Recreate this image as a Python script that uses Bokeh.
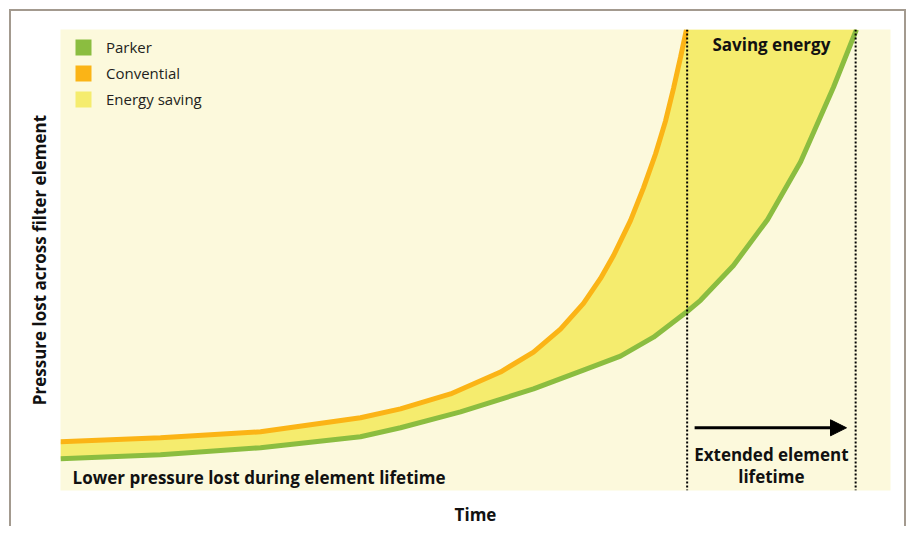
from bokeh.plotting import figure
from bokeh.models import (Range1d, Span, Label, Legend, LegendItem, Arrow, NormalHead)
from bokeh.embed import file_html
from bokeh.resources import INLINE

# ---- data (time 0-100, pressure 0-100) ----
conv_time = [0, 12.05, 24.10, 36.14, 40.96, 46.99, 53.01, 56.99, 60.24, 63.01,
             65.06, 66.63, 68.67, 70.24, 71.69, 72.89, 73.86, 74.70, 75.42]
conv_press = [10.58, 11.45, 12.74, 15.77, 17.71, 20.95, 25.70, 30.02, 34.99, 40.60,
              46.00, 50.97, 58.53, 65.66, 73.00, 80.13, 87.26, 93.95, 100]

parker_time = [0, 12.05, 24.10, 36.14, 40.96, 48.19, 56.99, 63.01, 67.47, 71.45,
               75.54, 77.11, 81.08, 85.18, 89.16, 93.13, 95.90]
parker_press = [6.91, 7.78, 9.29, 11.66, 13.61, 17.06, 22.03, 26.13, 29.16, 33.26,
                38.88, 41.25, 48.81, 58.75, 71.27, 87.47, 100]

conv_end_time = 75.5     # conventional element end of life
parker_end_time = 95.8   # Parker element end of life
arrow_start, arrow_end, arrow_level = 76.4, 94.7, 13.6

series_labels = ["Parker", "Convential", "Energy saving"]

GREEN = "#8bbd40"
ORANGE = "#fbb416"
YELLOW = "#f5ec6e"
BG = "#fcf9dc"
FONT = "Open Sans"
BORDER = "2px solid #a39a8f"

p = figure(width=897, height=517, output_backend="svg", toolbar_location=None,
           x_range=Range1d(0, 100), y_range=Range1d(0, 100),
           min_border_left=49, min_border_right=18, min_border_top=18, min_border_bottom=36,
           background_fill_color=BG, border_fill_color="white", outline_line_color=None)
p.styles = {"margin-left": "9px", "margin-top": "9px",
            "border-top": BORDER, "border-left": BORDER, "border-right": BORDER}

p.grid.visible = False
for ax in (p.xaxis, p.yaxis):
    ax.ticker = []
    ax.major_tick_line_color = None
    ax.minor_tick_line_color = None
    ax.axis_line_color = None
    ax.major_label_text_font_size = "0px"
    ax.axis_label_text_font = FONT
    ax.axis_label_text_font_style = "bold"
    ax.axis_label_text_font_size = "17px"
    ax.axis_label_text_color = "#111111"
p.xaxis.axis_label = "Time"
p.yaxis.axis_label = "Pressure lost across filter element"
p.xaxis.axis_label_standoff = 12
p.yaxis.axis_label_standoff = 10

# energy-saving band between the two curves
band_x = conv_time + [parker_end_time + 0.2] + parker_time[::-1]
band_y = conv_press + [100] + parker_press[::-1]
band = p.patch(band_x, band_y, fill_color=YELLOW, line_color=None)

p.line(conv_time, conv_press, line_color=ORANGE, line_width=5)
p.line(parker_time, parker_press, line_color=GREEN, line_width=5)

for t in (conv_end_time, parker_end_time):
    p.add_layout(Span(location=t, dimension="height", line_color="black",
                      line_width=2, line_dash="2 2"))

p.add_layout(Arrow(end=NormalHead(size=16, fill_color="black", line_color="black"),
                   x_start=arrow_start, y_start=arrow_level, x_end=arrow_end, y_end=arrow_level,
                   line_width=3, line_color="black"))

mid = (conv_end_time + parker_end_time) / 2
common = dict(text_font=FONT, text_font_style="bold", text_font_size="17px", text_color="#111111")
p.add_layout(Label(x=mid, y=7.8, text="Extended element", text_align="center",
                   text_baseline="middle", **common))
p.add_layout(Label(x=mid, y=3.0, text="lifetime", text_align="center",
                   text_baseline="middle", **common))
p.add_layout(Label(x=mid, y=96.8, text="Saving energy", text_align="center",
                   text_baseline="middle", **common))
p.add_layout(Label(x=1.45, y=2.8, text="Lower pressure lost during element lifetime",
                   text_align="left", text_baseline="middle", **common))

# zero-size quads: only used to give the legend its coloured squares
g_leg = p.quad(left=parker_time, right=parker_time, top=parker_press, bottom=parker_press,
               fill_color=GREEN, line_color=None)
o_leg = p.quad(left=conv_time, right=conv_time, top=conv_press, bottom=conv_press,
               fill_color=ORANGE, line_color=None)
legend = Legend(items=[LegendItem(label=series_labels[0], renderers=[g_leg]),
                       LegendItem(label=series_labels[1], renderers=[o_leg]),
                       LegendItem(label=series_labels[2], renderers=[band])],
                location=(13, 381), glyph_width=20, glyph_height=20, label_height=20,
                spacing=6, padding=0, margin=0, label_standoff=13,
                background_fill_alpha=0, border_line_color=None,
                label_text_font=FONT, label_text_font_size="15px", label_text_color="#231f20")
p.add_layout(legend)

open("out.html", "w").write(file_html(p, INLINE))
